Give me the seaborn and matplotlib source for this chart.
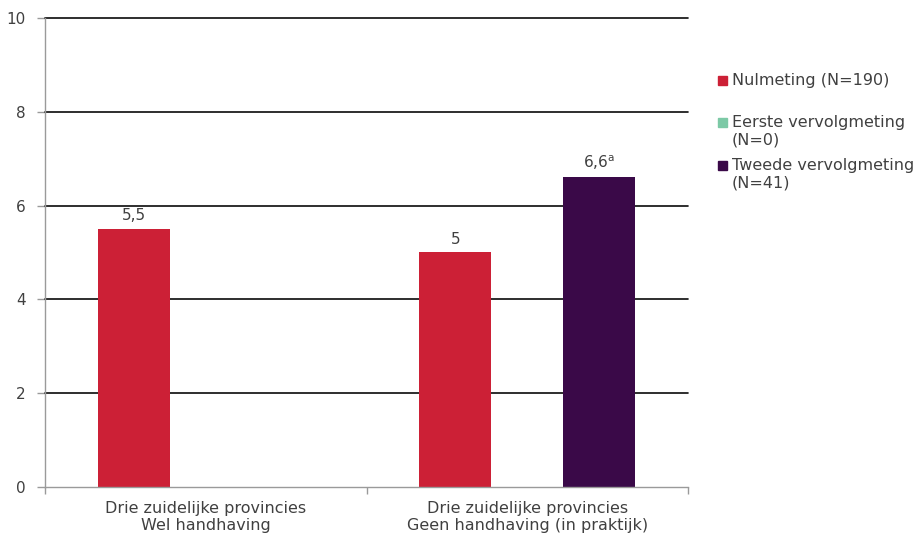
import numpy as np
import pandas as pd
import matplotlib
matplotlib.use('Agg')
import matplotlib.pyplot as plt
from matplotlib.patches import Rectangle
import seaborn as sns

# data
categories = ['Drie zuidelijke provincies\nWel handhaving',
              'Drie zuidelijke provincies\nGeen handhaving (in praktijk)']
series = ['Nulmeting', 'Eerste vervolgmeting', 'Tweede vervolgmeting']
legend_labels = ['Nulmeting (N=190)', 'Eerste vervolgmeting\n(N=0)', 'Tweede vervolgmeting\n(N=41)']
nulmeting = [5.5, 5.0]
eerste = [np.nan, np.nan]
tweede = [np.nan, 6.6]
bar_labels = ['5,5', '5', '6,6$^{\\mathrm{a}}$']  # left to right
colors = ['#CC2036', '#7CC9A6', '#3A0948']
yticks = [0, 2, 4, 6, 8, 10]

sns.set_style('white')
plt.rcParams['font.family'] = ['DejaVu Sans']
plt.rcParams['font.sans-serif'] = ['DejaVu Sans']
text_col = '#404040'
fam = 'DejaVu Sans'

df = pd.DataFrame({
    'cat': categories * 3,
    'serie': [s for s in series for _ in categories],
    'val': nulmeting + eerste + tweede,
})

fig = plt.figure(figsize=(9.23, 5.38), dpi=100)
ax = fig.add_axes([45 / 923, 51 / 538, (688 - 45) / 923, (487 - 18) / 538])

sns.barplot(data=df, x='cat', y='val', hue='serie', order=categories, hue_order=series,
            palette=colors, width=0.672, gap=0, legend=False, ax=ax, zorder=3,
            linewidth=0, saturation=1)

# value labels above bars
bars = sorted([p for p in ax.patches if np.isfinite(p.get_height()) and p.get_height() > 0],
              key=lambda p: p.get_x())
for p, lab in zip(bars, bar_labels):
    ax.text(p.get_x() + p.get_width() / 2, p.get_height() + 0.12, lab,
            ha='center', va='bottom', fontsize=11, color=text_col, family=fam)

ax.set_ylim(0, 10)
ax.set_xlim(-0.5, 1.5)
ax.set_yticks(yticks)
ax.set_yticklabels([str(t) for t in yticks], fontsize=11, color=text_col, family=fam)
for t in yticks[1:]:
    ax.axhline(t, color='#0a0a0a', lw=1.2, zorder=1, clip_on=False)

ax.set_xticks([-0.5, 0.5, 1.5])
ax.set_xticklabels([])
ax.set_xticks([0, 1], minor=True)
ax.set_xticklabels(categories, minor=True, fontsize=11.5, color=text_col,
                   linespacing=1.15, family=fam)
ax.tick_params(axis='x', which='major', bottom=True, length=5, color='#9a9a9a', width=1)
ax.tick_params(axis='x', which='minor', bottom=True, length=0, pad=10)
ax.tick_params(axis='y', left=True, length=6, color='#9a9a9a', width=1, pad=8)
ax.set_xlabel('')
ax.set_ylabel('')

for s in ['top', 'right']:
    ax.spines[s].set_visible(False)
for s in ['left', 'bottom']:
    ax.spines[s].set_color('#9a9a9a')
    ax.spines[s].set_linewidth(1)
    ax.spines[s].set_zorder(4)

# legend, drawn by hand like the original
W, H = 923, 538
leg_tops = [76, 118, 161]
for lab, col, top in zip(legend_labels, colors, leg_tops):
    fig.patches.append(Rectangle((718 / W, 1 - (top + 9) / H), 9 / W, 9 / H,
                                 transform=fig.transFigure, color=col))
    fig.text(732 / W, 1 - (top - 3) / H, lab, ha='left', va='top', fontsize=11.5,
             color=text_col, linespacing=1.2, family=fam)

fig.savefig('out.png', dpi=100)
